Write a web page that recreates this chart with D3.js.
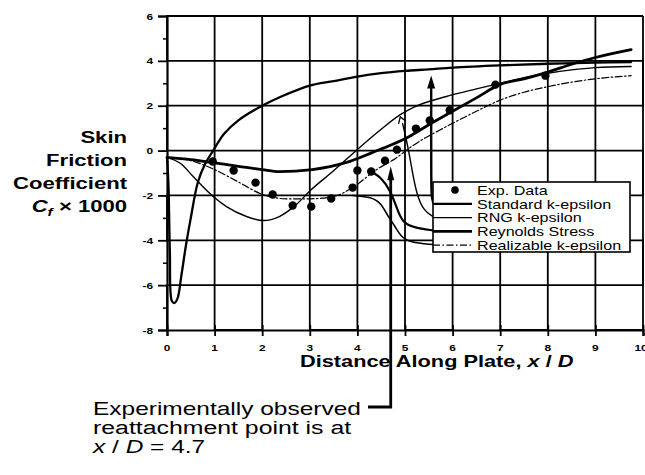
<!DOCTYPE html>
<html>
<head>
<meta charset="utf-8">
<script src="https://cdn.jsdelivr.net/npm/d3@7"></script>
<style>
  html, body { margin: 0; padding: 0; background: #fff; }
  svg { display: block; }
</style>
</head>
<body>
<svg id="chart" width="645" height="475"></svg>
<script>
// ---- axis ticks ----
const xTickValues = [0, 1, 2, 3, 4, 5, 6, 7, 8, 9, 10];
const yTickValues = [-8, -6, -4, -2, 0, 2, 4, 6];
const yMinorTicks = [-7, -5, -3, -1, 1, 3, 5];

// ---- experimental skin friction (Cf x 1000) ----
const expX = [0.96, 1.4, 1.86, 2.22, 2.64, 3.03, 3.45, 3.9, 4.0, 4.29, 4.58, 4.83, 5.23, 5.52, 5.94, 6.9, 7.95];
const expY = [-0.49, -0.89, -1.43, -1.96, -2.45, -2.5, -2.14, -1.65, -0.89, -0.93, -0.45, 0.04, 0.98, 1.34, 1.8, 2.94, 3.34];

// ---- Standard k-epsilon ----
const stdX = [0, 0.03, 0.06, 0.1, 0.15, 0.22, 0.3, 0.4, 0.5, 0.65, 0.8, 0.97, 1.2, 1.5, 2.0, 2.5, 3.0, 3.5, 4.0, 4.5, 5.0, 5.5, 6.0, 7.0, 8.0, 9.0, 9.75];
const stdY = [-0.3, -1.5, -4.5, -6.7, -6.8, -6.6, -5.6, -4.2, -3.0, -1.4, -0.6, 0.0, 0.75, 1.35, 2.0, 2.5, 2.9, 3.1, 3.3, 3.45, 3.55, 3.62, 3.7, 3.8, 3.87, 3.92, 3.95];

// ---- RNG k-epsilon ----
const rngX = [0, 0.3, 0.55, 0.97, 1.25, 1.67, 2.03, 2.36, 2.72, 3.0, 3.5, 4.0, 4.5, 4.9, 5.2, 5.85, 6.5, 7.0, 7.5, 8.0, 8.5, 9.0, 9.75];
const rngY = [-0.3, -0.6, -1.16, -2.05, -2.5, -2.94, -3.12, -2.94, -2.4, -1.8, -0.9, 0.05, 0.95, 1.6, 1.95, 2.4, 2.75, 3.0, 3.25, 3.45, 3.6, 3.7, 3.75];

// ---- Reynolds Stress ----
const rsmX = [0, 0.5, 1.0, 1.5, 2.0, 2.36, 3.05, 3.77, 4.31, 4.73, 5.08, 5.5, 6.0, 6.5, 7.0, 7.5, 8.0, 8.5, 9.0, 9.75];
const rsmY = [-0.3, -0.4, -0.55, -0.7, -0.85, -0.94, -0.85, -0.53, -0.09, 0.27, 0.62, 1.15, 1.75, 2.35, 2.95, 3.2, 3.5, 3.85, 4.15, 4.5];

// ---- Realizable k-epsilon ----
const rkeX = [0, 0.5, 1.0, 1.5, 2.0, 2.5, 3.0, 3.5, 3.9, 4.4, 4.8, 5.15, 5.85, 6.5, 7.0, 7.5, 8.0, 8.5, 9.0, 9.75];
const rkeY = [-0.3, -0.45, -0.85, -1.4, -1.95, -2.15, -2.15, -2.05, -1.65, -0.85, -0.35, 0.2, 1.05, 1.75, 2.25, 2.6, 2.85, 3.05, 3.2, 3.34];

// ---- leader lines joining legend entries to their curves (x/D, Cf) ----
const leadStd = [[5.59, -2.3], [5.56, -2.05], [5.55, -1.6], [5.55, 3.0]];
const leadStdTip = [5.55, 3.35];
const leadRng = [[5.59, -2.94], [5.4, -2.7], [5.25, -2.0], [5.15, -0.9], [5.06, 0.2], [4.95, 1.2]];
const leadRngTip = [4.9, 1.5];
const leadRsm = [[5.59, -3.56], [5.2, -3.45], [4.95, -3.2], [4.85, -2.7], [4.7, -1.8], [4.5, -1.2], [4.3, -0.95]];
const leadRke = [[5.59, -4.19], [5.1, -4.1], [4.9, -3.8], [4.8, -3.4], [4.63, -2.9], [4.5, -2.35], [4.3, -2.07], [3.9, -2.0]];

// reattachment location quoted in the note
const reattachX = 4.7;
const reattachTipY = -0.7;

const svg = d3.select("#chart");
const FONT = "'Liberation Sans', Arial, Helvetica, sans-serif";

const xs = d3.scaleLinear().domain([0, 10]).range([167, 643]);
const ys = d3.scaleLinear().domain([-8, 6]).range([330, 16]);

// wide-set text helper
function wideText(parent, px, py, str, opts) {
  const g = parent.append("g")
    .attr("transform", `translate(${px},${py}) scale(${opts.sx || 1},1)`);
  const t = g.append("text")
    .attr("x", 0).attr("y", 0)
    .attr("font-family", FONT)
    .attr("font-size", opts.size)
    .attr("font-weight", opts.weight || "normal")
    .attr("text-anchor", opts.anchor || "start")
    .attr("fill", "#000");
  if (typeof str === "string") {
    t.text(str);
  } else {
    str.forEach(p => {
      const s = t.append("tspan").text(p.t);
      if (p.italic) s.attr("font-style", "italic");
      if (p.sub) s.attr("font-size", opts.size * 0.7).attr("dy", 4);
      if (p.unsub) s.attr("dy", -4);
    });
  }
  return t;
}

// ---- axes ----
const yAxis = d3.axisLeft(ys).tickValues(yTickValues).tickSize(9).tickFormat("");
const gy = svg.append("g").attr("transform", `translate(${xs(0)},0)`).call(yAxis);
gy.select(".domain").attr("stroke", "#000").attr("stroke-width", 2.2);
gy.selectAll(".tick line").attr("stroke", "#000").attr("stroke-width", 1.8);
const yMinor = d3.axisLeft(ys).tickValues(yMinorTicks).tickSize(4).tickFormat("");
const gym = svg.append("g").attr("transform", `translate(${xs(0)},0)`).call(yMinor);
gym.select(".domain").remove();
gym.selectAll(".tick line").attr("stroke", "#000").attr("stroke-width", 1.5);

const xAxis = d3.axisBottom(xs).tickValues(xTickValues).tickSize(6).tickFormat("");
const gx = svg.append("g").attr("transform", `translate(0,${ys(-8)})`).call(xAxis);
gx.select(".domain").attr("stroke", "#000").attr("stroke-width", 2.2);
gx.selectAll(".tick line").attr("stroke", "#000").attr("stroke-width", 1.8).attr("y1", -5);

yTickValues.forEach(v => wideText(svg, 153, ys(v) + 3.5, String(v),
  { size: 9.5, weight: "bold", anchor: "end", sx: 1.25 }));
xTickValues.forEach(v => wideText(svg, xs(v) - (v === 10 ? 2 : 0), 351, String(v),
  { size: 9.5, weight: "bold", anchor: "middle", sx: 1.25 }));

// ---- axis titles ----
const yTitleLines = ["Skin", "Friction", "Coefficient"];
yTitleLines.forEach((s, i) => wideText(svg, 127, 143 + i * 23, s,
  { size: 16, weight: "bold", anchor: "end", sx: 1.38 }));
wideText(svg, 127, 212, [
  { t: "C", italic: true }, { t: "f", italic: true, sub: true }, { t: " \u00d7 1000", unsub: true }
], { size: 16, weight: "bold", anchor: "end", sx: 1.38 });

wideText(svg, 300, 367, [
  { t: "Distance Along Plate, " }, { t: "x", italic: true }, { t: " / " }, { t: "D", italic: true }
], { size: 16, weight: "bold", anchor: "start", sx: 1.36 });

// ---- model curves ----
const zip = (a, b) => a.map((v, i) => [v, b[i]]);
const smooth = d3.line().x(d => xs(d[0])).y(d => ys(d[1])).curve(d3.curveMonotoneX);
const curves = svg.append("g").attr("fill", "none").attr("stroke", "#000")
  .attr("stroke-linejoin", "round").attr("stroke-linecap", "round");

curves.append("path").datum(zip(rkeX, rkeY)).attr("d", smooth)
  .attr("stroke-width", 1.2).attr("stroke-dasharray", "7,2.5,1.5,2.5");
curves.append("path").datum(zip(rngX, rngY)).attr("d", smooth)
  .attr("stroke-width", 1.4);
curves.append("path").datum(zip(rsmX, rsmY)).attr("d", smooth)
  .attr("stroke-width", 2.8);
const stdLine = d3.line().x(d => xs(d[0])).y(d => ys(d[1])).curve(d3.curveCatmullRom.alpha(0.5));
curves.append("path").datum(zip(stdX, stdY)).attr("d", stdLine)
  .attr("stroke-width", 2.3);

// ---- experimental points ----
svg.append("g").selectAll("circle").data(zip(expX, expY)).join("circle")
  .attr("cx", d => xs(d[0])).attr("cy", d => ys(d[1])).attr("r", 4.2).attr("fill", "#000");

// ---- grid: one polyline per direction, drawn over the curves ----
const gridPts = [];
xTickValues.filter(v => v > 0).forEach((v, i) => {
  const ends = i % 2 === 0 ? [6, -8] : [-8, 6];
  ends.forEach(c => gridPts.push([v, c]));
});
const hGridPts = [];
yTickValues.filter(v => v > -8).forEach((v, i) => {
  const ends = i % 2 === 0 ? [0, 10] : [10, 0];
  ends.forEach(c => hGridPts.push([c, v]));
});
const straight = d3.line().x(d => xs(d[0])).y(d => ys(d[1]));
const gridLayer = svg.append("g").attr("id", "plot-grid");
gridLayer.append("path").datum([[0, 6]].concat(gridPts)).attr("d", straight)
  .style("fill", "none").style("stroke", "rgb(0,0,0)").style("stroke-width", "1.8px");
gridLayer.append("path").datum([[0, -8]].concat(hGridPts)).attr("d", straight)
  .style("fill", "none").style("stroke", "rgb(0,0,0)").style("stroke-width", "1.8px");

// ---- leader lines ----
const lead = d3.line().x(d => xs(d[0])).y(d => ys(d[1])).curve(d3.curveBasis);
const leaders = svg.append("g").attr("fill", "none").attr("stroke", "#000").attr("stroke-linecap", "round");
leaders.append("path").datum(leadStd).attr("d", lead).attr("stroke-width", 2.4);
leaders.append("path").datum(leadRng).attr("d", lead).attr("stroke-width", 1.4);
leaders.append("path").datum(leadRsm).attr("d", lead).attr("stroke-width", 2.2);
leaders.append("path").datum(leadRke).attr("d", lead).attr("stroke-width", 1.6);

function arrowHead(tipX, tipY, w, h, angleDeg) {
  svg.append("path")
    .attr("d", `M0,0 L${-w / 2},${h} L${w / 2},${h} Z`)
    .attr("transform", `translate(${tipX},${tipY}) rotate(${angleDeg})`)
    .attr("fill", "#000");
}
arrowHead(xs(leadStdTip[0]), ys(leadStdTip[1]), 8, 13, 0);
// small open arrowhead on the RNG leader
svg.append("path")
  .attr("d", "M-4,6 L0,0 L4,6")
  .attr("transform", `translate(${xs(leadRngTip[0])},${ys(leadRngTip[1])}) rotate(-20)`)
  .attr("fill", "none").attr("stroke", "#000").attr("stroke-width", 1.3);

// ---- reattachment note ----
const rx = xs(reattachX);
svg.append("path")
  .attr("d", `M368,407 L${rx},407 L${rx},${ys(reattachTipY) + 10}`)
  .attr("fill", "none").attr("stroke", "#000").attr("stroke-width", 2.8);
arrowHead(rx, ys(reattachTipY), 7, 14, 0);

wideText(svg, 93, 415, "Experimentally  observed", { size: 18, sx: 1.36 });
wideText(svg, 93, 434, "reattachment point is at", { size: 18, sx: 1.38 });
wideText(svg, 93, 453, [
  { t: "x", italic: true }, { t: " / " }, { t: "D", italic: true }, { t: " = 4.7" }
], { size: 18, sx: 1.36 });

// ---- legend ----
const legend = svg.append("g");
legend.append("rect").attr("x", 433).attr("y", 182).attr("width", 197).attr("height", 70)
  .attr("fill", "#fff").attr("stroke", "#000").attr("stroke-width", 1.6);
const legendItems = [
  { name: "Exp. Data", kind: "dot" },
  { name: "Standard k-epsilon", w: 2.3 },
  { name: "RNG k-epsilon", w: 1.4 },
  { name: "Reynolds Stress", w: 2.8 },
  { name: "Realizable k-epsilon", w: 1.2, dash: "7,2.5,1.5,2.5" }
];
legendItems.forEach((it, i) => {
  const cy = 190 + i * 13.8;
  if (it.kind === "dot") {
    legend.append("circle").attr("cx", 455).attr("cy", cy).attr("r", 3.8).attr("fill", "#000");
  } else {
    legend.append("line").attr("x1", 433).attr("x2", 472).attr("y1", cy).attr("y2", cy)
      .attr("stroke", "#000").attr("stroke-width", it.w)
      .attr("stroke-dasharray", it.dash || null);
  }
  wideText(legend, 477, cy + 4.8, it.name, { size: 13, sx: 1.24 });
});
</script>
</body>
</html>
